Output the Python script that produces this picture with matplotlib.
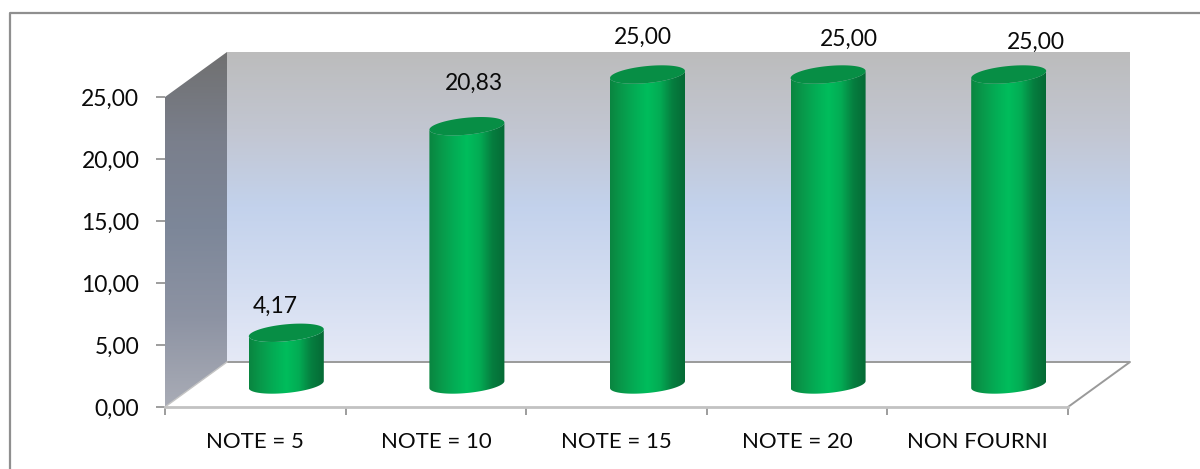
#!/usr/bin/env python3
"""Faux-3D cylinder column chart, drawn on one flat axes with a depth offset."""
import matplotlib
import numpy as np

matplotlib.use("Agg")
import matplotlib.pyplot as plt
from matplotlib.colors import LinearSegmentedColormap
from matplotlib.patches import Polygon

categories = ["NOTE = 5", "NOTE = 10", "NOTE = 15", "NOTE = 20", "NON FOURNI"]
values = [4.17, 20.83, 25.00, 25.00, 25.00]
value_labels = ["4,17", "20,83", "25,00", "25,00", "25,00"]
y_ticks = [0, 5, 10, 15, 20, 25]
y_tick_labels = ["0,00", "5,00", "10,00", "15,00", "20,00", "25,00"]

# label nudges in pixels from the top of each cylinder
label_dx = [-11, 7, -5, 21, 27]
label_dy = [26, 43, 37, 35, 32]

W, H = 1200, 469
LEFT, RIGHT, BOTTOM, TOP = 165, 1068, 407, 97
PX_X = 5 / (RIGHT - LEFT)
PX_Y = 25 / (BOTTOM - TOP)
DEPTH_X = 62 * PX_X
DEPTH_Y = 45 * PX_Y
HALF_W = 37.5 * PX_X

plt.rcParams["font.family"] = ["Lato", "DejaVu Sans"]

wall_cmap = LinearSegmentedColormap.from_list("wall", ["#bcbcbc", "#c2c6d1", "#c3d2ec", "#d3ddf1", "#e5e9f6"])
side_cmap = LinearSegmentedColormap.from_list("side", ["#707070", "#7a7f8c", "#7d8799", "#8d93a3", "#a9acb6"])
bar_cmap = LinearSegmentedColormap.from_list(
    "bar", ["#0a8540", "#089a4b", "#03ad55", "#00bd5c", "#03ac54", "#067e3f", "#056a35"])

fig = plt.figure(figsize=(W / 100, H / 100), dpi=100, facecolor="white")
ax = fig.add_axes([LEFT / W, 1 - BOTTOM / H, (RIGHT - LEFT) / W, (BOTTOM - TOP) / H])
ax.patch.set_visible(False)

# outer frame, only top and left are visible in the source
fig.add_artist(plt.Line2D([9.5 / W, 9.5 / W, 1], [0, 1 - 13.5 / H, 1 - 13.5 / H],
                          color="#8f8f8f", lw=1.6, transform=fig.transFigure))


def gradient(cmap, extent, clip, vertical=True, zorder=1):
    grad = np.linspace(0, 1, 256)
    grad = grad[:, None] if vertical else grad[None, :]
    im = ax.imshow(grad, cmap=cmap, extent=extent, aspect="auto", origin="upper",
                   interpolation="bilinear", zorder=zorder)
    im.set_clip_box(fig.bbox)
    clip.set_transform(ax.transData)
    im.set_clip_path(clip)
    return im


# back wall and side wall
gradient(wall_cmap, (DEPTH_X, 5 + DEPTH_X, DEPTH_Y, 25 + DEPTH_Y),
         Polygon([(DEPTH_X, DEPTH_Y), (5 + DEPTH_X, DEPTH_Y), (5 + DEPTH_X, 25 + DEPTH_Y), (DEPTH_X, 25 + DEPTH_Y)]))
gradient(side_cmap, (0, DEPTH_X, 0, 25 + DEPTH_Y),
         Polygon([(0, 0), (DEPTH_X, DEPTH_Y), (DEPTH_X, 25 + DEPTH_Y), (0, 25)]))

# floor edges
ax.plot([DEPTH_X, 5 + DEPTH_X, 5], [DEPTH_Y, DEPTH_Y, 0], color="#9a9a9a", lw=1.4, clip_on=False, zorder=2)
ax.plot([0, DEPTH_X], [0, DEPTH_Y], color="#c4c4c4", lw=1.0, clip_on=False, zorder=2)
ax.plot([0, 5], [0, 0], color="#c2c2c2", lw=2.0, clip_on=False, zorder=2)

# cylinders
tilt = 3.5 * PX_Y
b_top = 8.5 * PX_Y
for i, val in enumerate(values):
    cx = i + 0.5 + DEPTH_X / 2
    base = DEPTH_Y / 2
    top = base + val
    t = np.linspace(np.pi, 2 * np.pi, 60)
    ex = HALF_W * np.cos(t)
    ey = b_top * np.sin(t) + tilt * np.cos(t)
    body = Polygon(np.column_stack([np.r_[cx + ex, cx + ex[::-1]], np.r_[base + ey, top + ey[::-1]]]))
    gradient(bar_cmap, (cx - HALF_W, cx + HALF_W, base - 2, top + 2), body, vertical=False, zorder=3)

    ellipse_t = np.linspace(0, 2 * np.pi, 80)
    cap = Polygon(np.column_stack([cx + HALF_W * np.cos(ellipse_t),
                                   top + b_top * np.sin(ellipse_t) + tilt * np.cos(ellipse_t)]),
                  facecolor="#078e45", edgecolor="none", zorder=4, clip_on=False)
    ax.add_patch(cap)

    ax.annotate(value_labels[i], (cx, top), xytext=(label_dx[i] * 0.72, label_dy[i] * 0.72),
                textcoords="offset points", ha="center", va="center", fontsize=16.5,
                color="#0a0a0a", annotation_clip=False, zorder=5)

ax.set_xlim(0, 5)
ax.set_ylim(0, 25)
for side in ax.spines.values():
    side.set_visible(False)

ax.set_yticks(y_ticks, y_tick_labels)
ax.set_xticks(np.arange(6))
ax.set_xticklabels([])
ax.set_xticks(np.arange(5) + 0.5, categories, minor=True)
ax.tick_params(axis="y", length=6.5, width=1.2, color="#8c8c8c", labelsize=16.5, labelcolor="#0a0a0a", pad=12)
ax.tick_params(axis="x", which="major", length=6, width=1.2, color="#8c8c8c")
ax.tick_params(axis="x", which="minor", length=0, labelsize=16, labelcolor="#0a0a0a", pad=18)

fig.savefig("out.png", dpi=100)
